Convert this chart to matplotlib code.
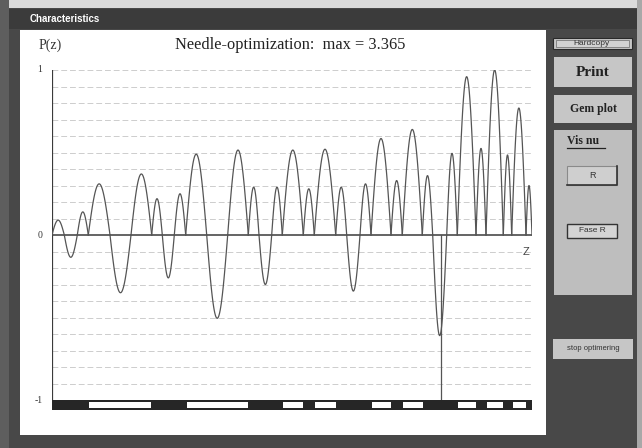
import numpy as np
import matplotlib.pyplot as plt
from matplotlib.patches import Rectangle

# zero points of P(z) along z (z measured in plot pixels from the left axis)
zeros = [0, 12.3, 25.3, 36.3, 58, 79, 99.7, 110.3, 122.3, 133.7, 154.7, 175.7,
         196.3, 207, 219.7, 230.3, 251.3, 262.3, 283.7, 294.7, 308, 319, 339,
         350.3, 370.3, 380.7, 394.7, 405.3, 424, 434, 451.3, 459.7, 474, 480]
# extreme value of each lobe between two zero points
lobe_peaks = [0.09, -0.135, 0.14, 0.31, -0.35, 0.37, 0.22, -0.26, 0.25, 0.49,
              -0.505, 0.515, 0.29, -0.30, 0.29, 0.515, 0.28, 0.52, 0.29, -0.34,
              0.31, 0.585, 0.33, 0.64, 0.36, -0.61, 0.495, 0.96, 0.525, 1.0,
              0.485, 0.77, 0.30]
# layer boundaries of the stack (bar under the plot), first layer dark
layer_edges = [0, 36.5, 99.3, 135, 196, 231, 251, 263, 284, 319.5, 339, 351,
               370.5, 405.5, 424, 435, 451, 461, 474, 480]
needle_z = 388.5
max_value = 3.365

W, H = 642, 448
fig = plt.figure(figsize=(W / 100, H / 100), dpi=100)

# window chrome, drawn in pixel coordinates
bg = fig.add_axes([0, 0, 1, 1])
bg.set_xlim(0, W)
bg.set_ylim(H, 0)
bg.axis("off")

def box(x, y, w, h, fc, ec="none", lw=1.0, z=1):
    bg.add_patch(Rectangle((x, y), w, h, facecolor=fc, edgecolor=ec, linewidth=lw, zorder=z))

box(0, 0, W, H, "#484848", z=0)
box(0, 0, W, 8, "#dadada")
box(0, 0, 9, H, "#5e5e5e")
box(637, 0, 5, H, "#a8a8a8")
box(9, 9, 628, 20, "#3b3b3b")
bg.text(30, 19, "Characteristics", color="white", fontsize=7, fontweight="bold",
        family="Liberation Sans", va="center", ha="left")
box(20, 30, 526, 405, "white")

# right-hand buttons
box(553, 38, 79, 11, "#c8c8c8", ec="#2a2a2a", lw=0.8)
box(556, 40, 73, 7, "#d2d2d2", ec="#7a7a7a", lw=0.6)
bg.text(592, 43.5, "Hardcopy", fontsize=6, family="Liberation Sans", ha="center",
        va="center", color="#333333")
box(554, 57, 78, 30, "#c6c6c6")
bg.text(593, 72, "Print", fontsize=11, fontweight="bold", family="Liberation Serif",
        ha="center", va="center", color="#222222")
box(554, 95, 78, 28, "#c6c6c6")
bg.text(593, 109, "Gem plot", fontsize=8.5, fontweight="bold", family="Liberation Serif",
        ha="center", va="center", color="#222222")
box(554, 130, 78, 165, "#bebebe")
bg.text(567, 141, "Vis nu", fontsize=8.5, fontweight="bold", family="Liberation Serif",
        ha="left", va="center", color="#222222")
bg.plot([567, 605], [148, 148], color="#222222", lw=0.9)
box(567, 166, 50, 19, "#cfcfcf", ec="#8a8a8a", lw=0.8)
bg.plot([617, 617, 567], [166, 185, 185], color="#333333", lw=1.2)
bg.text(592, 175.5, "R", fontsize=6.5, family="Liberation Sans", ha="center",
        va="center", color="#333333")
box(567, 224, 50, 14, "#d4d4d4", ec="#333333", lw=1.0)
bg.text(592, 231, "Fase R", fontsize=6, family="Liberation Sans", ha="center",
        va="center", color="#333333")
box(553, 339, 80, 20, "#c6c6c6")
bg.text(593, 349, "stop optimering", fontsize=5.5, family="Liberation Sans",
        ha="center", va="center", color="#333333")

# plot area: x in pixels from the axis, y in P(z) units
ax = fig.add_axes([52 / W, (H - 410) / H, 480 / W, 340 / H])
ax.set_xlim(0, 480)
ax.set_ylim(-1.0606, 1.0)
ax.axis("off")

for g in np.arange(-9, 11) / 10:
    if abs(g) > 1e-9:
        ax.plot([0, 480], [g, g], color="#cdcdcd", lw=0.7, ls=(0, (6, 3)), zorder=1)
ax.plot([480, 480], [-1.0, 1.0], color="#dcdcdc", lw=0.7, zorder=1)
ax.plot([0, 480], [0, 0], color="#4a4a4a", lw=1.2, zorder=2)
ax.plot([0, 0], [-1.0, 1.0], color="#3a3a3a", lw=1.6, zorder=3)

for a, b, p in zip(zeros[:-1], zeros[1:], lobe_peaks):
    z = np.linspace(a, b, 40)
    ax.plot(z, p * np.sin(np.pi * (z - a) / (b - a)), color="#555555", lw=0.9, zorder=4)
ax.plot([needle_z, needle_z], [0, -1.0], color="#555555", lw=0.9, zorder=4)

# layer bar
ax.add_patch(Rectangle((0, -1.0606), 480, 0.0606, facecolor="#262626",
                       edgecolor="none", zorder=5, clip_on=False))
for i in range(len(layer_edges) - 1):
    if i % 2 == 1:
        x0, x1 = layer_edges[i], layer_edges[i + 1]
        ax.add_patch(Rectangle((x0, -1.049), x1 - x0, 0.037, facecolor="white",
                               edgecolor="none", zorder=6, clip_on=False))

lab = dict(fontsize=7, family="Liberation Serif", color="#333333", va="center", ha="center")
ax.text(-12, 1.0, "1", **lab)
ax.text(-12, 0.0, "0", **lab)
ax.text(-13, -1.0, "-1", **lab)
ax.text(474, -0.1, "Z", fontsize=8, family="Liberation Sans", color="#444444",
        ha="center", va="center")
ax.text(-13, 1.15, "P(z)", fontsize=10, family="Liberation Serif", color="#333333",
        ha="left", va="center", clip_on=False)
ax.text(238, 1.15, f"Needle-optimization:  max = {max_value}", fontsize=11.8,
        family="Liberation Serif", color="#222222", ha="center", va="center",
        clip_on=False)

fig.savefig("out.png", dpi=100)
